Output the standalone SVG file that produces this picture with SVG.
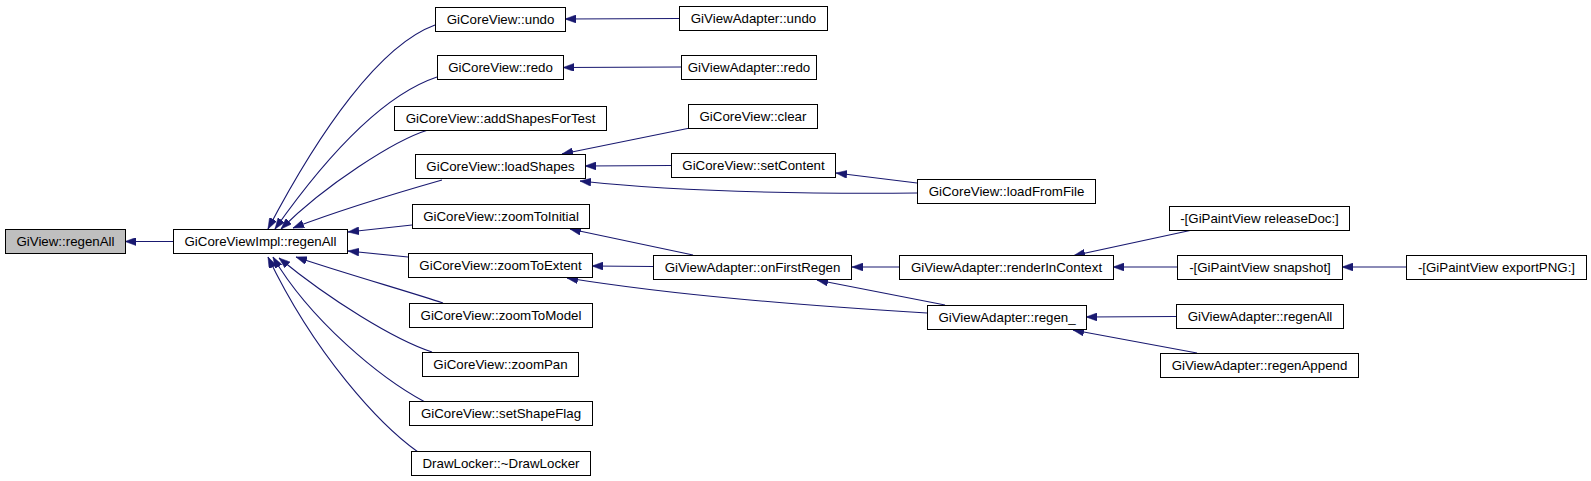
<svg xmlns="http://www.w3.org/2000/svg" width="1591" height="481" viewBox="0 0 1591 481">
<style>
.n rect{fill:#ffffff;stroke:#000000;stroke-width:1}
.n.root rect{fill:#bfbfbf}
.n text{font-family:"Liberation Sans",Arial,sans-serif;font-size:13.3px;text-anchor:middle;fill:#000000}
.e path{fill:none;stroke:#191970;stroke-width:1.1;marker-end:url(#ah)}
</style>
<defs>
<marker id="ah" viewBox="0 0 11 8" refX="11" refY="4" markerWidth="11" markerHeight="8" markerUnits="userSpaceOnUse" orient="auto">
<path d="M0,0 L11,4 L0,8 Z" fill="#191970" stroke="#191970" stroke-width="0.5"/>
</marker>
</defs>
<rect width="1591" height="481" fill="#ffffff"/>
<g id="connectors" class="e">
<path d="M173,241.5 L125,241.5"/>
<path d="M435,25 C380,45 320,130 268,229"/>
<path d="M437,77 C389,93 335,144 275,229"/>
<path d="M428,130 C395,140 325,185 281,229"/>
<path d="M442,180 C400,192 340,210 293,228"/>
<path d="M412,225 L348,232"/>
<path d="M408,257 L348,251"/>
<path d="M443,303 C410,292 340,272 296,257"/>
<path d="M432,352 C395,340 330,300 279,258"/>
<path d="M425,402 C380,378 310,320 273,257"/>
<path d="M418,452 C380,425 315,355 268,257"/>
<path d="M679,18.5 L565,19"/>
<path d="M681,67 L563,67.5"/>
<path d="M690,128 L562,154"/>
<path d="M671,165.5 L585,166"/>
<path d="M917,193 C800,194 680,192 580,181"/>
<path d="M917,183 L836,173"/>
<path d="M693,255 L570,229"/>
<path d="M653,266.5 L592,266"/>
<path d="M927,313 C800,305 680,296 567,278"/>
<path d="M945,305 L817,280"/>
<path d="M899,267 L852,267"/>
<path d="M1197,229 L1074,255.5"/>
<path d="M1177,267 L1113,267"/>
<path d="M1406,267 L1342,267"/>
<path d="M1176,316.5 L1086,317"/>
<path d="M1197,353 L1073,330"/>
</g>
<g id="n1" class="n root"><rect x="5.5" y="229.5" width="120" height="24"/><text x="65.5" y="246">GiView::regenAll</text></g>
<g id="n2" class="n"><rect x="173.5" y="229.5" width="174" height="24"/><text x="260.5" y="246">GiCoreViewImpl::regenAll</text></g>
<g id="n3" class="n"><rect x="435.5" y="7.5" width="130" height="24"/><text x="500.5" y="24">GiCoreView::undo</text></g>
<g id="n4" class="n"><rect x="679.5" y="6.5" width="148" height="24"/><text x="753.5" y="23">GiViewAdapter::undo</text></g>
<g id="n5" class="n"><rect x="437.5" y="55.5" width="126" height="24"/><text x="500.5" y="72">GiCoreView::redo</text></g>
<g id="n6" class="n"><rect x="681.5" y="55.5" width="135" height="24"/><text x="749" y="72">GiViewAdapter::redo</text></g>
<g id="n7" class="n"><rect x="394.5" y="106.5" width="212" height="24"/><text x="500.5" y="123">GiCoreView::addShapesForTest</text></g>
<g id="n8" class="n"><rect x="688.5" y="104.5" width="129" height="24"/><text x="753" y="121">GiCoreView::clear</text></g>
<g id="n9" class="n"><rect x="415.5" y="154.5" width="170" height="24"/><text x="500.5" y="171">GiCoreView::loadShapes</text></g>
<g id="n10" class="n"><rect x="671.5" y="153.5" width="164" height="24"/><text x="753.5" y="170">GiCoreView::setContent</text></g>
<g id="n11" class="n"><rect x="917.5" y="179.5" width="178" height="24"/><text x="1006.5" y="196">GiCoreView::loadFromFile</text></g>
<g id="n12" class="n"><rect x="412.5" y="204.5" width="177" height="24"/><text x="501" y="221">GiCoreView::zoomToInitial</text></g>
<g id="n13" class="n"><rect x="408.5" y="253.5" width="184" height="24"/><text x="500.5" y="270">GiCoreView::zoomToExtent</text></g>
<g id="n14" class="n"><rect x="653.5" y="255.5" width="198" height="24"/><text x="752.5" y="272">GiViewAdapter::onFirstRegen</text></g>
<g id="n15" class="n"><rect x="409.5" y="303.5" width="183" height="24"/><text x="501" y="320">GiCoreView::zoomToModel</text></g>
<g id="n16" class="n"><rect x="422.5" y="352.5" width="156" height="24"/><text x="500.5" y="369">GiCoreView::zoomPan</text></g>
<g id="n17" class="n"><rect x="409.5" y="401.5" width="183" height="24"/><text x="501" y="418">GiCoreView::setShapeFlag</text></g>
<g id="n18" class="n"><rect x="411.5" y="451.5" width="179" height="24"/><text x="501" y="468">DrawLocker::~DrawLocker</text></g>
<g id="n19" class="n"><rect x="899.5" y="255.5" width="214" height="24"/><text x="1006.5" y="272">GiViewAdapter::renderInContext</text></g>
<g id="n20" class="n"><rect x="927.5" y="305.5" width="159" height="24"/><text x="1007" y="322">GiViewAdapter::regen_</text></g>
<g id="n21" class="n"><rect x="1169.5" y="206.5" width="180" height="24"/><text x="1259.5" y="223">-[GiPaintView releaseDoc:]</text></g>
<g id="n22" class="n"><rect x="1177.5" y="255.5" width="165" height="24"/><text x="1260" y="272">-[GiPaintView snapshot]</text></g>
<g id="n23" class="n"><rect x="1406.5" y="255.5" width="180" height="24"/><text x="1496.5" y="272">-[GiPaintView exportPNG:]</text></g>
<g id="n24" class="n"><rect x="1176.5" y="304.5" width="167" height="24"/><text x="1260" y="321">GiViewAdapter::regenAll</text></g>
<g id="n25" class="n"><rect x="1160.5" y="353.5" width="198" height="24"/><text x="1259.5" y="370">GiViewAdapter::regenAppend</text></g>
</svg>
